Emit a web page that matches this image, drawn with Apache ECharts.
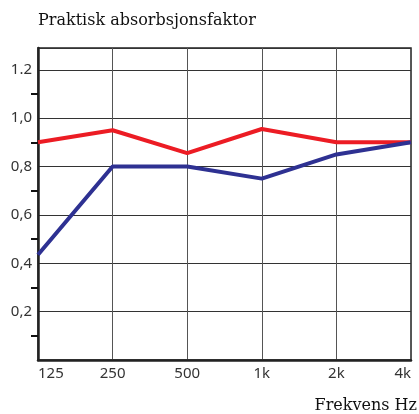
<!DOCTYPE html>
<html>
<head>
<meta charset="utf-8">
<script src="https://cdn.jsdelivr.net/npm/echarts@6/dist/echarts.min.js"></script>
<style>
html, body { margin:0; padding:0; background:#fff; }
#chart { width:419px; height:414px; }
</style>
</head>
<body>
<div id="chart"></div>
<script>
// frekvensbånd
var bands = ['125', '250', '500', '1k', '2k', '4k'];
// praktisk absorpsjonsfaktor
var redSeries = [0.90, 0.95, 0.855, 0.955, 0.90, 0.90];
var blueSeries = [0.435, 0.80, 0.80, 0.75, 0.85, 0.90];
var yLabels = { '0.2':'0,2', '0.4':'0,4', '0.6':'0,6', '0.8':'0,8', '1':'1,0', '1.2':'1.2' };

var chart = echarts.init(document.getElementById('chart'));
chart.setOption({
	animation: false,
	title: [
		{ text: 'Praktisk absorbsjonsfaktor', left: 33, top: 8,
		  textStyle: { fontFamily: 'DejaVu Serif', fontSize: 16, fontWeight: 'normal', color: '#111' } },
		{ text: 'Frekvens Hz', right: -3, top: 393,
		  textStyle: { fontFamily: 'DejaVu Serif', fontSize: 16, fontWeight: 'normal', color: '#111' } }
	],
	grid: { left: 38, right: 8, top: 48, bottom: 54, show: true, borderColor: '#222', borderWidth: 1.5 },
	xAxis: {
		type: 'category', data: bands, boundaryGap: false,
		axisLine: { lineStyle: { color: '#222', width: 2.5 } },
		axisTick: { show: false },
		axisLabel: { color: '#333', fontFamily: 'Noto Sans', fontSize: 15, margin: 6,
			alignMinLabel: 'left', alignMaxLabel: 'right' },
		splitLine: { show: true, lineStyle: { color: '#555', width: 1 } }
	},
	yAxis: {
		type: 'value', min: 0, max: 1.29, interval: 0.2,
		axisLine: { show: true, lineStyle: { color: '#222', width: 2.5 } },
		axisTick: { show: false },
		minorTick: { show: true, splitNumber: 2, length: 7, lineStyle: { color: '#111', width: 2 } },
		axisLabel: { color: '#333', fontFamily: 'Noto Sans', fontSize: 15, margin: 6,
			formatter: function (v) { return yLabels[String(Math.round(v * 10) / 10)] || ''; } },
		splitLine: { lineStyle: { color: '#333', width: 1 } }
	},
	series: [
		{ name: 'rød', type: 'line', data: redSeries, symbol: 'none',
		  lineStyle: { color: '#ec1c24', width: 4 } },
		{ name: 'blå', type: 'line', data: blueSeries, symbol: 'none',
		  lineStyle: { color: '#2e3192', width: 4 } }
	]
});
</script>
</body>
</html>
